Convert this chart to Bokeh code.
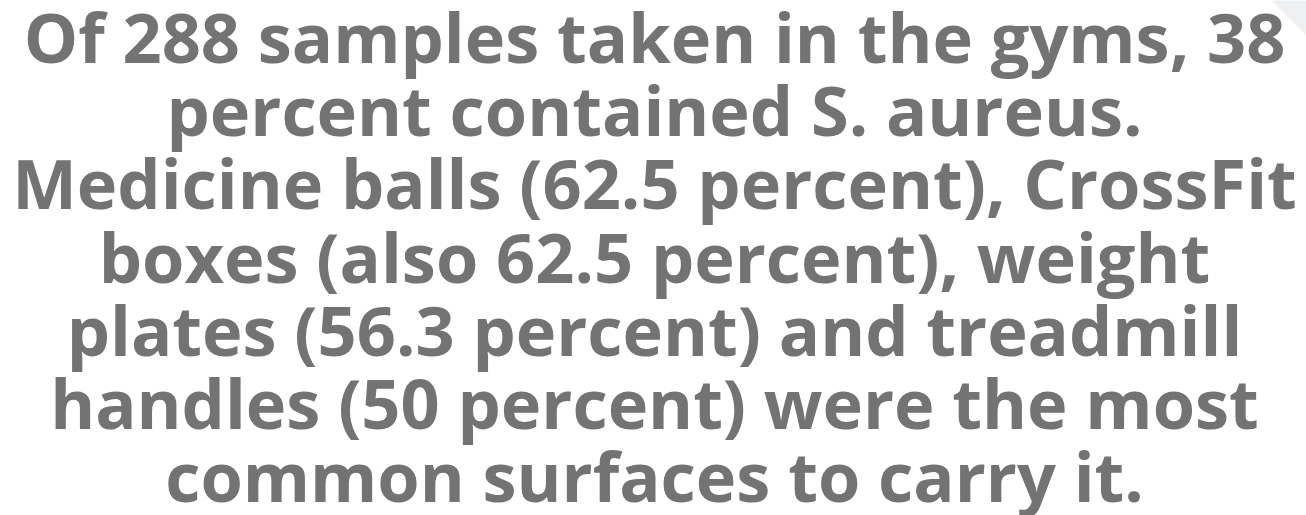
from bokeh.plotting import figure
from bokeh.models import Range1d, ColumnDataSource
from bokeh.core.properties import value
from bokeh.embed import file_html
from bokeh.resources import INLINE

lines = [
    "Of 288 samples taken in the gyms, 38",
    "percent contained S. aureus.",
    "Medicine balls (62.5 percent), CrossFit",
    "boxes (also 62.5 percent), weight",
    "plates (56.3 percent) and treadmill",
    "handles (50 percent) were the most",
    "common surfaces to carry it.",
]

W, H = 1306, 515
FS = 68.5
p = figure(width=W, height=H, output_backend="svg", toolbar_location=None,
           x_range=Range1d(0, W), y_range=Range1d(H, 0), min_border=0)
p.axis.visible = False
p.grid.visible = False
p.outline_line_color = None
p.background_fill_color = "white"
p.border_fill_color = "white"

# faint corner decoration
p.patch(x=[1269, 1310, 1310], y=[-2, -2, 39], fill_color="#eff0f2", line_color=None)

# Bokeh's svg text sits ~0.4em below the given alphabetic y; compensate
first_baseline = 63 - 0.4 * FS
spacing = 73.3
src = ColumnDataSource(dict(
    x=[654] * len(lines),
    y=[first_baseline + spacing * i for i in range(len(lines))],
    t=lines,
))
p.text(x="x", y="y", text="t", source=src, text_align="center",
       text_baseline="alphabetic", text_font=value("Open Sans"),
       text_font_style="bold", text_font_size=f"{FS}px", text_color="#737373")

open("out.html", "w").write(file_html(p, INLINE))
